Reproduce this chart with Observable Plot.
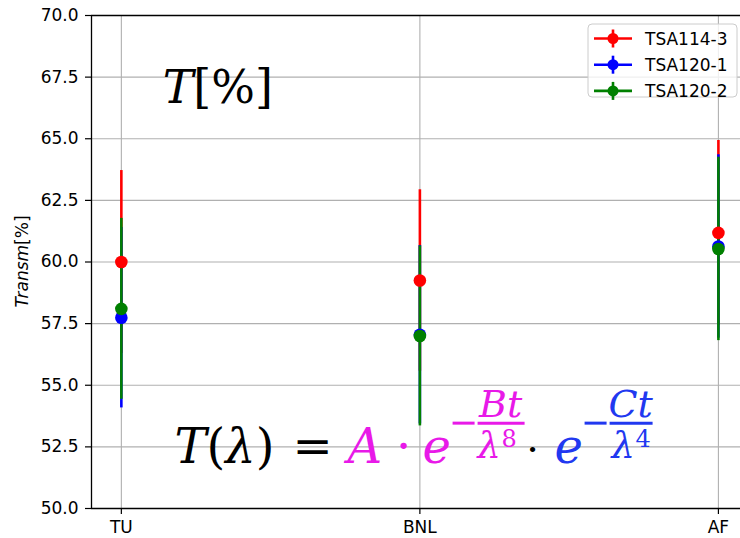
<!DOCTYPE html>
<html>
<head>
<meta charset="utf-8">
<script src="https://cdn.jsdelivr.net/npm/d3@7"></script>
<script src="https://cdn.jsdelivr.net/npm/@observablehq/plot@0.6"></script>
<style>
  html, body { margin: 0; padding: 0; background: #fff; }
  svg { display: block; }
</style>
</head>
<body>
<div id="chart"></div>
<script>
// Measurement sites along the x axis
const categories = ["TU", "BNL", "AF"];

// Samples, their colours, mean transmission [%] and uncertainty per site
const samples = ["TSA114-3", "TSA120-1", "TSA120-2"];
const sampleColors = ["#ff0000", "#0000ff", "#008000"];
const tsa114_3 = [60.0, 59.25, 61.18];
const tsa114_3Err = [3.71, 3.68, 3.75];
const tsa120_1 = [57.74, 57.05, 60.63];
const tsa120_1Err = [3.66, 3.62, 3.72];
const tsa120_2 = [58.1, 57.0, 60.53];
const tsa120_2Err = [3.67, 3.65, 3.72];

// Axis ticks
const yTicks = [50, 52.5, 55, 57.5, 60, 62.5, 65, 67.5, 70];
const xTicks = [0, 1, 2];

// Long table: one row per (sample, site)
const means = [tsa114_3, tsa120_1, tsa120_2];
const errs = [tsa114_3Err, tsa120_1Err, tsa120_2Err];
const rows = samples.flatMap((s, k) =>
  categories.map((c, i) => ({
    sample: s, site: c, i,
    mean: means[k][i],
    lo: means[k][i] - errs[k][i],
    hi: means[k][i] + errs[k][i]
  }))
);

const font = "DejaVu Sans";
const serif = "DejaVu Serif";

const chart = Plot.plot({
  width: 740,
  height: 538,
  marginLeft: 91,
  marginRight: 0,
  marginTop: 15,
  marginBottom: 30,
  style: { fontFamily: font, fontSize: "17px", background: "#fff", color: "#000" },
  x: { type: "linear", domain: [-0.1, 2.074] },
  y: { domain: [50, 70] },
  color: { domain: samples, range: sampleColors },
  marks: [
    Plot.gridY(yTicks, { stroke: "#b0b0b0", strokeOpacity: 1, strokeWidth: 1.1 }),
    Plot.gridX(xTicks, { stroke: "#b0b0b0", strokeOpacity: 1, strokeWidth: 1.1 }),
    // error bars first, then markers on top
    Plot.ruleX(rows, { x: "i", y1: "lo", y2: "hi", stroke: "sample", strokeWidth: 2.6 }),
    Plot.dot(rows, { x: "i", y: "mean", fill: "sample", r: 6.3 }),
    // spines (left, top, bottom)
    Plot.ruleY([50, 70], { stroke: "#000", strokeWidth: 1.3 }),
    Plot.ruleX([-0.1], { stroke: "#000", strokeWidth: 1.3 }),
    Plot.axisY(yTicks, {
      tickSize: 6, tickPadding: 7, tickFormat: d3.format(".1f"),
      label: null, fontSize: 17, strokeWidth: 1.2
    }),
    Plot.axisX(xTicks, {
      tickSize: 6, tickPadding: 6, tickFormat: i => categories[i],
      label: null, fontSize: 17, strokeWidth: 1.2
    })
  ]
});

document.getElementById("chart").appendChild(chart);

const X = v => chart.scale("x").apply(v);
const Y = v => chart.scale("y").apply(v);
const svg = d3.select(chart);
const layer = svg.append("g").attr("text-anchor", "start");

// y-axis label
const yl = layer.append("text")
  .attr("transform", `translate(28,${Y(60)}) rotate(-90)`)
  .attr("text-anchor", "middle")
  .attr("font-family", font)
  .attr("font-size", 17)
  .attr("fill", "#000");
yl.append("tspan").attr("font-style", "italic").text("Transm");
yl.append("tspan").text("[%]");

// "T[%]" heading inside the plot
const hd = layer.append("text")
  .attr("x", X(0.14)).attr("y", Y(66.43))
  .attr("text-anchor", "start")
  .attr("font-family", serif)
  .attr("font-size", 46)
  .attr("fill", "#000");
hd.append("tspan").attr("font-style", "italic").text("T");
hd.append("tspan").text("[%]");

// Transmission model formula
const magenta = "#e819e8";
const blue = "#2138f0";
const fx = X(0.18), fy = Y(51.82);
function piece(txt, dx, dy, size, color, opts = {}) {
  const t = layer.append("text")
    .attr("x", fx + dx).attr("y", fy + dy)
    .attr("font-family", serif)
    .attr("font-size", size)
    .attr("fill", color)
    .attr("text-anchor", opts.anchor || "start")
    .attr("font-style", opts.italic ? "italic" : "normal");
  t.text(txt);
  return t;
}
function bar(x0, x1, dy, color) {
  layer.append("line")
    .attr("x1", fx + x0).attr("x2", fx + x1)
    .attr("y1", fy + dy).attr("y2", fy + dy)
    .attr("stroke", color).attr("stroke-width", 3);
}
const lhs = layer.append("text")
  .attr("x", fx).attr("y", fy)
  .attr("text-anchor", "start")
  .attr("font-family", serif).attr("font-size", 48).attr("fill", "#000");
lhs.append("tspan").attr("font-style", "italic").text("T");
lhs.append("tspan").text("(");
lhs.append("tspan").attr("font-style", "italic").text("λ");
lhs.append("tspan").text(")");
piece("=", 138, 0, 48, "#000", { anchor: "middle" });
piece("A", 173, 0, 48, magenta, { italic: true });
piece("·", 229, 0, 48, magenta, { anchor: "middle" });
piece("e", 248, 0, 48, magenta, { italic: true });
bar(278, 300, -40, magenta);
bar(303, 350, -40, magenta);
piece("Bt", 326, -46, 38, magenta, { italic: true, anchor: "middle" });
piece("λ", 303, -5, 37, magenta, { italic: true });
piece("8", 327, -16, 24, magenta);
piece("·", 358, 0, 40, "#000", { anchor: "middle" });
piece("e", 380, 0, 48, blue, { italic: true });
bar(410, 432, -40, blue);
bar(435, 478, -40, blue);
piece("Ct", 456, -46, 38, blue, { italic: true, anchor: "middle" });
piece("λ", 437, -5, 37, blue, { italic: true });
piece("4", 461, -16, 24, blue);

// Legend (upper right)
const lg = layer.append("g").attr("transform", "translate(588,24)");
lg.append("rect")
  .attr("width", 149).attr("height", 73).attr("rx", 4)
  .attr("fill", "#fff").attr("fill-opacity", 0.8)
  .attr("stroke", "#cccccc").attr("stroke-width", 1);
samples.forEach((s, k) => {
  const yy = 14.5 + k * 26.2;
  const c = sampleColors[k];
  lg.append("line").attr("x1", 6).attr("x2", 44).attr("y1", yy).attr("y2", yy)
    .attr("stroke", c).attr("stroke-width", 2.6);
  lg.append("line").attr("x1", 25).attr("x2", 25).attr("y1", yy - 9).attr("y2", yy + 9)
    .attr("stroke", c).attr("stroke-width", 2.6);
  lg.append("circle").attr("cx", 25).attr("cy", yy).attr("r", 5.5).attr("fill", c);
  lg.append("text").attr("x", 57).attr("y", yy + 6)
    .attr("text-anchor", "start")
    .attr("font-family", font).attr("font-size", 17).attr("fill", "#000").text(s);
});
</script>
</body>
</html>
